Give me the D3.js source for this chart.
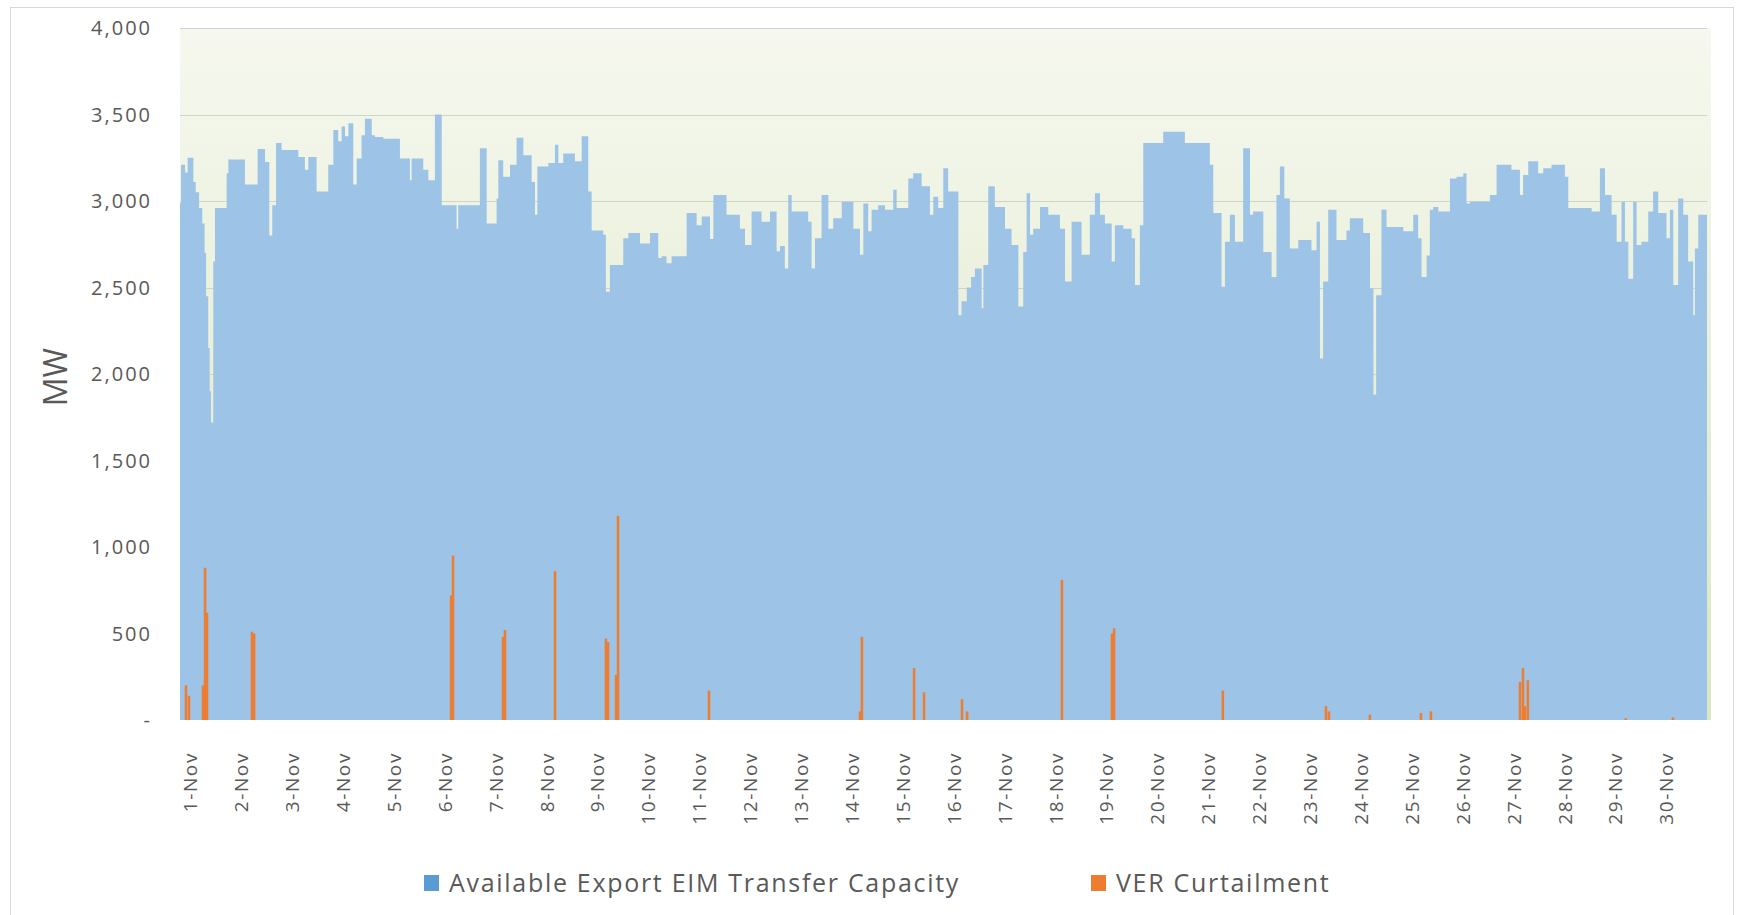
<!DOCTYPE html>
<html>
<head>
<meta charset="utf-8">
<script src="https://cdn.jsdelivr.net/npm/d3@7"></script>
<style>
  html, body { margin: 0; padding: 0; background: #fff; }
  svg { display: block; font-family: "Open Sans", "Noto Sans", sans-serif; }
</style>
</head>
<body>
<script>
// hours from 1-Nov 00:00, MW (step changes)
const capacity = [
  [-5, 2990], [-4.5, 3210], [-2.6, 3165], [-1.4, 3250], [1.3, 3110], [2.4, 3050],
  [4.0, 2960], [5.5, 2870], [6.6, 2700], [7.3, 2450], [8.3, 2150], [9.0, 1900],
  [9.6, 1720], [10.7, 2650], [11.5, 2960], [17.0, 3160], [17.8, 3240], [25.6, 3095],
  [31.6, 3300], [35.1, 3225], [37.1, 2800], [38.5, 2975], [40.3, 3335], [42.9, 3295],
  [50.8, 3255], [53.9, 3180], [55.5, 3255], [59.4, 3055], [64.9, 3210], [67.3, 3410],
  [69.6, 3345], [71.2, 3430], [72.8, 3375], [74.4, 3450], [76.7, 3095], [78.3, 3245],
  [80.6, 3380], [82.2, 3475], [85.4, 3380], [86.9, 3370], [90.9, 3360], [98.7, 3245],
  [103.4, 3120], [104.2, 3245], [109.7, 3180], [112.1, 3120], [115.2, 3500], [118.4, 2975],
  [125.4, 2840], [126.2, 2975], [136.4, 3305], [139.6, 2870], [144.3, 3015], [145.1, 3235],
  [147.4, 3140], [150.6, 3210], [153.7, 3365], [156.9, 3265], [160.8, 3110], [162.4, 2920],
  [163.5, 3200], [168.7, 3220], [171.8, 3325], [173.4, 3220], [175.7, 3275], [181.2, 3230],
  [184.4, 3375], [187.5, 3055], [189.1, 2830], [194.6, 2805], [195.8, 2475], [197.7, 2630],
  [204.0, 2785], [206.4, 2815], [211.9, 2755], [216.6, 2815], [220.5, 2670], [222.1, 2680],
  [224.4, 2640], [226.8, 2680], [233.9, 2930], [238.6, 2860], [241.0, 2910], [244.9, 2780],
  [246.5, 3035], [252.7, 2920], [259.0, 2840], [261.4, 2745], [264.5, 2940], [269.2, 2880],
  [273.2, 2940], [276.3, 2710], [277.9, 2740], [280.2, 2610], [281.8, 3035], [283.4, 2940],
  [291.2, 2880], [292.8, 2610], [294.4, 2785], [297.5, 3035], [300.7, 2840], [303.0, 2900],
  [307.0, 2995], [312.5, 2840], [315.6, 2690], [317.2, 2985], [319.5, 2825], [321.1, 2950],
  [324.2, 2975], [327.4, 2950], [331.3, 3065], [332.9, 2960], [338.4, 3130], [340.7, 3160],
  [344.7, 3085], [348.6, 2920], [350.2, 3025], [352.5, 2960], [354.9, 3190], [357.2, 3055],
  [362.0, 2340], [363.5, 2420], [366.0, 2500], [368.0, 2560], [369.8, 2610], [373.0, 2380],
  [373.8, 2630], [376.1, 3085], [379.2, 2965], [384.0, 2840], [387.1, 2745], [390.3, 2390],
  [392.6, 2705], [394.2, 3045], [395.8, 2805], [397.3, 2840], [400.5, 2965], [404.4, 2920],
  [409.9, 2840], [412.3, 2535], [415.4, 2880], [420.1, 2690], [424.0, 2920], [426.4, 3045],
  [428.8, 2920], [431.1, 2870], [434.3, 2650], [435.8, 2860], [439.8, 2840], [443.7, 2785],
  [445.3, 2515], [447.6, 2860], [449.2, 3335], [458.6, 3400], [468.8, 3335], [480.6, 3210],
  [482.2, 2930], [486.1, 2505], [487.7, 2765], [490.0, 2920], [492.4, 2765], [496.3, 3305],
  [499.5, 2920], [501.0, 2940], [505.8, 2705], [509.7, 2560], [512.0, 3035], [513.6, 3200],
  [515.7, 3015], [518.3, 2725], [522.3, 2775], [528.5, 2715], [530.9, 2880], [532.5, 2090],
  [534.0, 2535], [536.4, 2950], [540.3, 2775], [545.0, 2830], [546.6, 2900], [552.9, 2815],
  [556.1, 2495], [557.7, 1880], [559.0, 2455], [561.5, 2950], [563.9, 2850], [571.8, 2825],
  [576.5, 2920], [578.8, 2785], [580.4, 2560], [582.8, 2685], [584.3, 2950], [585.9, 2965],
  [588.3, 2940], [593.8, 3130], [596.9, 3140], [600.1, 3160], [601.6, 2985], [603.2, 2995],
  [612.6, 3035], [615.8, 3210], [622.8, 3180], [626.8, 3035], [628.3, 3150], [630.7, 3230],
  [635.4, 3160], [637.8, 3190], [641.7, 3210], [648.0, 3140], [649.6, 2960], [660.6, 2940],
  [664.5, 3190], [666.9, 3035], [670.0, 2920], [672.4, 2765], [674.7, 2995], [676.3, 2765],
  [677.9, 2550], [680.2, 2995], [681.8, 2745], [684.1, 2765], [687.3, 2940], [689.6, 3055],
  [692.0, 2930], [695.9, 2785], [697.5, 2950], [699.1, 2515], [701.4, 3015], [703.8, 2920],
  [706.1, 2650], [708.5, 2340], [709.3, 2725], [710.9, 2920], [715, 2920]
];

// hourly curtailment spikes (hour, MW)
const curtailment = [
  [-2.2, 200], [-0.8, 140], [5.8, 200], [6.8, 880], [7.7, 620], [28.9, 510], [29.9, 500],
  [122.8, 720], [123.7, 950], [147.3, 480], [148.2, 520], [171.8, 860],
  [195.8, 470], [196.8, 450], [200.6, 260], [201.5, 1180], [244.4, 170],
  [315.6, 50], [316.5, 480], [341.1, 300], [345.8, 160], [363.7, 120], [366.1, 50],
  [410.8, 810], [434.4, 500], [435.4, 530], [486.7, 170], [535.3, 80], [536.7, 50],
  [556.0, 30], [580.1, 40], [584.8, 50], [626.8, 220], [628.2, 300], [629.1, 80],
  [630.5, 230], [676.7, 10], [698.9, 15]
];

const dayLabels = ["1-Nov", "2-Nov", "3-Nov", "4-Nov", "5-Nov", "6-Nov", "7-Nov", "8-Nov",
  "9-Nov", "10-Nov", "11-Nov", "12-Nov", "13-Nov", "14-Nov", "15-Nov", "16-Nov", "17-Nov",
  "18-Nov", "19-Nov", "20-Nov", "21-Nov", "22-Nov", "23-Nov", "24-Nov", "25-Nov", "26-Nov",
  "27-Nov", "28-Nov", "29-Nov", "30-Nov"];
const yTicks = [0, 500, 1000, 1500, 2000, 2500, 3000, 3500, 4000];
const seriesNames = ["Available Export EIM Transfer Capacity", "VER Curtailment"];

const width = 1737;
const height = 915;
const plotLeft = 180, plotRight = 1707, plotTop = 28, plotBottom = 720;

const x = d3.scaleLinear().domain([-5, 715]).range([plotLeft, plotRight]);
const y = d3.scaleLinear().domain([0, 4000]).range([plotBottom, plotTop]);
const fmt = d3.format(",");

const svg = d3.select("body").append("svg")
    .attr("width", width)
    .attr("height", height);

const grad = svg.append("defs").append("linearGradient")
    .attr("id", "bg")
    .attr("x1", 0).attr("y1", 0).attr("x2", 0).attr("y2", 1);
grad.append("stop").attr("offset", "0%").attr("stop-color", "#f6f8ef");
grad.append("stop").attr("offset", "100%").attr("stop-color", "#dae6c2");

// outer border
svg.append("rect")
    .attr("x", 10.5).attr("y", 7.5)
    .attr("width", 1723).attr("height", 940)
    .attr("fill", "#fff")
    .attr("stroke", "#d9d9d9");

// plot background
svg.append("rect")
    .attr("x", plotLeft).attr("y", plotTop)
    .attr("width", plotRight - plotLeft + 4).attr("height", plotBottom - plotTop)
    .attr("fill", "url(#bg)");

// gridlines
svg.append("g")
  .selectAll("line")
  .data(yTicks.filter(d => d > 0))
  .join("line")
    .attr("x1", plotLeft).attr("x2", plotRight)
    .attr("y1", d => Math.round(y(d)) + 0.5)
    .attr("y2", d => Math.round(y(d)) + 0.5)
    .attr("stroke", "#d0d4c6");

// capacity area
svg.append("path")
    .datum(capacity)
    .attr("fill", "#9dc3e6")
    .attr("d", d3.area()
        .x(d => x(d[0]))
        .y0(y(0))
        .y1(d => y(d[1]))
        .curve(d3.curveStepAfter));

// curtailment spikes
svg.append("g")
  .selectAll("rect")
  .data(curtailment)
  .join("rect")
    .attr("x", d => x(d[0]) - 1.2)
    .attr("width", x(1) - x(0) + 0.4)
    .attr("y", d => y(d[1]))
    .attr("height", d => y(0) - y(d[1]))
    .attr("fill", "#ed7d31");

// y tick labels
svg.append("g")
  .selectAll("text")
  .data(yTicks)
  .join("text")
    .attr("x", 152)
    .attr("y", d => y(d))
    .attr("dy", "0.35em")
    .attr("text-anchor", "end")
    .attr("font-size", 20)
    .attr("letter-spacing", 2)
    .attr("fill", "#595959")
    .text(d => d === 0 ? "-" : fmt(d));

// y title
svg.append("text")
    .attr("transform", "translate(56,377) rotate(-90)")
    .attr("text-anchor", "middle")
    .attr("dy", "0.35em")
    .attr("font-size", 32)
    .attr("fill", "#595959")
    .text("MW");

// day labels
svg.append("g")
  .selectAll("text")
  .data(dayLabels)
  .join("text")
    .attr("transform", (d, i) => `translate(${x(i * 24)},752) rotate(-90)`)
    .attr("text-anchor", "end")
    .attr("dy", "0.35em")
    .attr("font-size", 19)
    .attr("letter-spacing", 1.6)
    .attr("fill", "#595959")
    .text(d => d);

// legend
const legend = svg.append("g")
  .selectAll("g")
  .data(seriesNames)
  .join("g")
    .attr("transform", (d, i) => `translate(${i === 0 ? 424 : 1091},883)`);

legend.append("rect")
    .attr("x", 0).attr("y", -8)
    .attr("width", 15).attr("height", 16)
    .attr("fill", (d, i) => i === 0 ? "#5b9bd5" : "#ed7d31");

legend.append("text")
    .attr("x", 25)
    .attr("dy", "0.35em")
    .attr("font-size", 25)
    .attr("letter-spacing", 1.7)
    .attr("fill", "#595959")
    .text(d => d);
</script>
</body>
</html>
